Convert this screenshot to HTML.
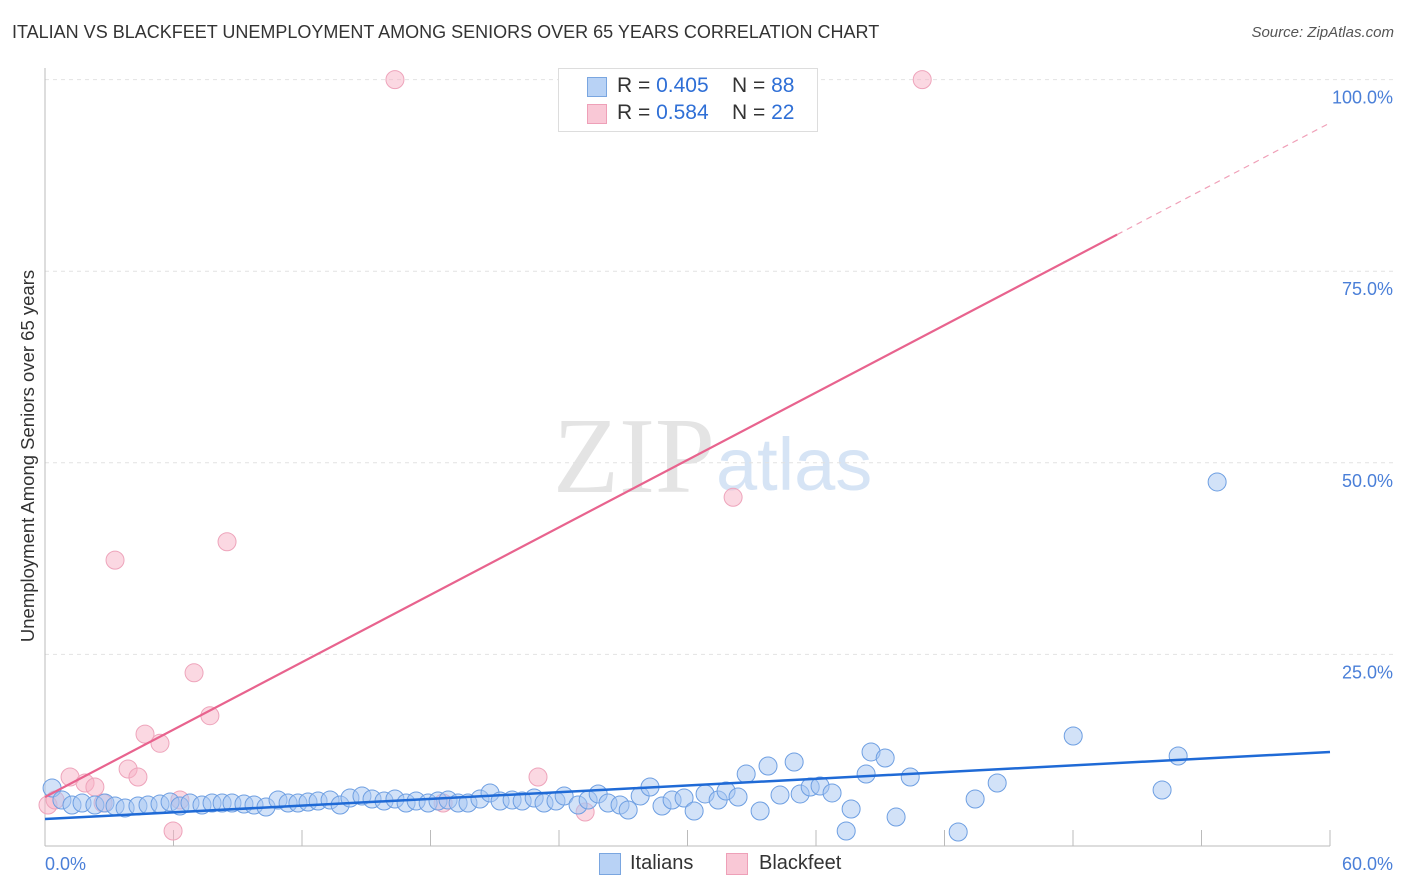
<!DOCTYPE html>
<html><head><meta charset="utf-8">
<style>
body{margin:0;background:#fff;font-family:"Liberation Sans",sans-serif;}
#wrap{position:relative;width:1406px;height:892px;overflow:hidden;}
.t{position:absolute;white-space:nowrap;}
</style></head><body>
<div id="wrap">
<div class="t" style="left:12px;top:22px;font-size:18px;color:#333;">ITALIAN VS BLACKFEET UNEMPLOYMENT AMONG SENIORS OVER 65 YEARS CORRELATION CHART</div>
<div class="t" style="right:12px;top:24px;font-size:15px;color:#555;font-style:italic;">Source: ZipAtlas.com</div>
<svg id="chart" width="1406" height="892" style="position:absolute;left:0;top:0;">
<text x="553" y="492" font-family="Liberation Serif,serif" font-size="108" fill="#e4e4e4">ZIP</text>
<text x="716" y="490" font-family="Liberation Sans,sans-serif" font-size="74" fill="#d6e4f5">atlas</text>
</svg>
<div class="t" style="left:28px;top:456px;font-size:18.5px;color:#333;transform:translate(-50%,-50%) rotate(-90deg);">Unemployment Among Seniors over 65 years</div>
<div style="position:absolute;left:558px;top:68px;width:258px;height:62px;border:1px solid #ddd;background:#fff;font-size:21px;">
 <div style="position:absolute;left:28px;top:8px;width:18px;height:18px;background:#b8d2f5;border:1px solid #7aa6e0;"></div>
 <div class="t" style="left:58px;top:5px;color:#333;">R = <span style="color:#2f6fd6">0.405</span>&nbsp;&nbsp;&nbsp; N = <span style="color:#2f6fd6">88</span></div>
 <div style="position:absolute;left:28px;top:35px;width:18px;height:18px;background:#f9c8d6;border:1px solid #eea0b8;"></div>
 <div class="t" style="left:58px;top:32px;color:#333;">R = <span style="color:#2f6fd6">0.584</span>&nbsp;&nbsp;&nbsp; N = <span style="color:#2f6fd6">22</span></div>
</div>
<div>
 <div style="position:absolute;left:599px;top:853px;width:20px;height:20px;background:#b8d2f5;border:1px solid #7aa6e0;"></div>
 <div class="t" style="left:630px;top:852px;font-size:20px;color:#333;">Italians</div>
</div>
<div>
 <div style="position:absolute;left:726px;top:853px;width:20px;height:20px;background:#f9c8d6;border:1px solid #eea0b8;"></div>
 <div class="t" style="left:759px;top:852px;font-size:20px;color:#333;">Blackfeet</div>
</div>
</div>
<script>
const blueX=[0.33,0.79,1.26,1.73,2.33,2.8,3.27,3.74,4.34,4.81,5.37,5.84,6.3,6.77,7.33,7.8,8.27,8.73,9.29,9.76,10.32,10.88,11.35,11.81,12.28,12.75,13.31,13.78,14.24,14.8,15.27,15.83,16.34,16.86,17.33,17.89,18.35,18.82,19.29,19.75,20.31,20.78,21.25,21.81,22.28,22.84,23.3,23.86,24.24,24.89,25.36,25.83,26.29,26.85,27.23,27.79,28.25,28.81,29.28,29.84,30.31,30.82,31.43,31.8,32.36,32.74,33.39,33.76,34.32,34.98,35.26,35.73,36.19,36.75,37.41,37.64,38.34,38.57,39.23,39.74,40.4,42.64,43.43,44.46,48.01,52.16,52.91,54.73];
const blueY=[7.57,6.0,5.35,5.61,5.35,5.61,5.22,4.96,5.22,5.35,5.48,5.74,5.22,5.61,5.35,5.61,5.61,5.61,5.48,5.35,5.09,6.0,5.61,5.61,5.74,5.87,6.0,5.35,6.26,6.52,6.13,5.87,6.13,5.61,5.87,5.61,5.87,6.0,5.61,5.61,6.13,6.92,5.87,6.0,5.87,6.26,5.61,5.87,6.52,5.35,6.0,6.79,5.61,5.35,4.7,6.52,7.7,5.22,6.0,6.26,4.57,6.79,6.0,7.18,6.39,9.39,4.57,10.44,6.65,10.96,6.79,7.7,7.83,6.92,1.96,4.83,9.39,12.27,11.48,3.78,9.0,1.83,6.13,8.22,14.35,7.31,11.74,47.5];
const pinkX=[0.14,0.47,1.17,1.87,2.33,2.71,3.27,3.88,4.34,4.67,5.37,5.98,6.3,6.96,7.7,8.5,16.34,18.59,23.02,25.22,32.13,40.96];
const pinkY=[5.35,6.0,9.0,8.22,7.7,5.61,37.3,10.05,9.0,14.6,13.4,1.96,6.0,22.6,17.0,39.7,100,5.61,9.0,4.44,45.5,100];
const yTicks=[25,50,75,100];
const yTickLabels=["25.0%","50.0%","75.0%","100.0%"];
const xTicks=[6,12,18,24,30,36,42,48,54,60];
const blueTrend=[3.52,12.27];
const pinkTrend=[6.39,1.466];
const pinkSolidEnd=50.06;

const X=v=>45+v/60*1285;
const Y=v=>846-v*7.664;
const svg=document.getElementById('chart');
const NS='http://www.w3.org/2000/svg';
function mk(tag,attrs){const e=document.createElementNS(NS,tag);for(const k in attrs)e.setAttribute(k,attrs[k]);svg.appendChild(e);return e;}
yTicks.forEach((t,i)=>{
 const g=mk('line',{x1:45,x2:1395,y1:Y(t),y2:Y(t),stroke:'#e2e2e2','stroke-dasharray':'4,4'});
 
 
 const l=mk('text',{x:1393,y:Y(t)+24,'text-anchor':'end','font-size':18,fill:'#4a7fd8','font-family':'Liberation Sans,sans-serif'});
 l.textContent=yTickLabels[i];
 
 
});
const ax=mk('line',{x1:45,x2:45,y1:68,y2:846,stroke:'#bbb'});


const bx=mk('line',{x1:45,x2:1330,y1:846,y2:846,stroke:'#bbb'});


xTicks.forEach(t=>{
 const l=mk('line',{x1:X(t),x2:X(t),y1:830,y2:846,stroke:'#bbb'});
 
 
});
const x0=mk('text',{x:45,y:870,'font-size':18,fill:'#4a7fd8','font-family':'Liberation Sans,sans-serif'});
x0.textContent='0.0%';


const x1=mk('text',{x:1393,y:870,'text-anchor':'end','font-size':18,fill:'#4a7fd8','font-family':'Liberation Sans,sans-serif'});
x1.textContent='60.0%';


pinkX.forEach((v,i)=>{
 const c=mk('circle',{cx:X(v),cy:Y(pinkY[i]),r:9,fill:'rgba(248,178,198,0.5)',stroke:'#eea4bb','stroke-width':1});
 
 
});
blueX.forEach((v,i)=>{
 const c=mk('circle',{cx:X(v),cy:Y(blueY[i]),r:9,fill:'rgba(165,198,242,0.5)',stroke:'#6e9fe2','stroke-width':1});
 
 
});
const bt=mk('line',{x1:X(0),y1:Y(blueTrend[0]),x2:X(60),y2:Y(blueTrend[1]),stroke:'#1f6ad6','stroke-width':2.5});


const pt=mk('line',{x1:X(0),y1:Y(pinkTrend[0]),x2:X(pinkSolidEnd),y2:Y(pinkTrend[0]+pinkTrend[1]*pinkSolidEnd),stroke:'#e8638e','stroke-width':2.2});


const pd=mk('line',{x1:X(pinkSolidEnd),y1:Y(pinkTrend[0]+pinkTrend[1]*pinkSolidEnd),x2:X(60),y2:Y(pinkTrend[0]+pinkTrend[1]*60),stroke:'#f0a0b8','stroke-width':1.2,'stroke-dasharray':'6,5'});


</script>
</body></html>
